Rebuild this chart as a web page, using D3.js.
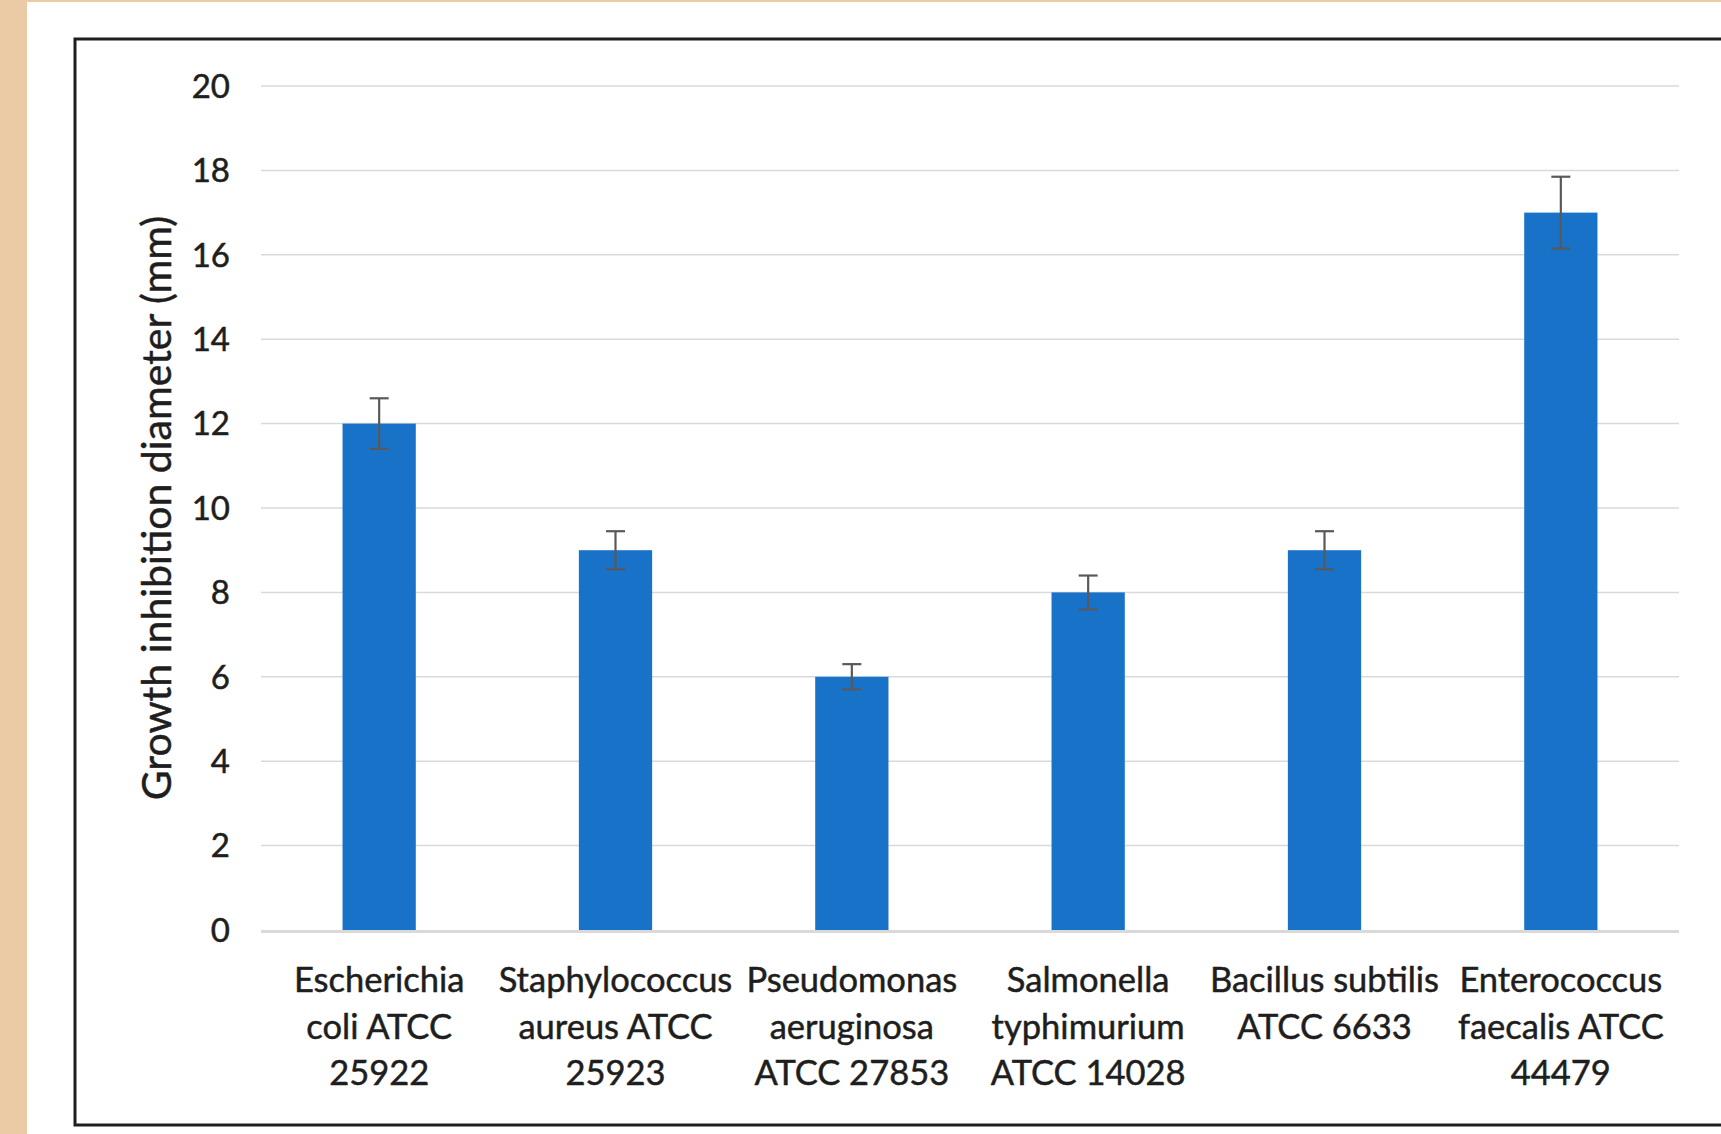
<!DOCTYPE html>
<html>
<head>
<meta charset="utf-8">
<script src="https://cdn.jsdelivr.net/npm/d3@7"></script>
<style>
  html, body { margin: 0; padding: 0; background: #ebcaa6; }
  svg { display: block; }
</style>
</head>
<body>
<svg id="chart" width="1721" height="1134"></svg>
<script>
const categories = [
  ["Escherichia", "coli ATCC", "25922"],
  ["Staphylococcus", "aureus ATCC", "25923"],
  ["Pseudomonas", "aeruginosa", "ATCC 27853"],
  ["Salmonella", "typhimurium", "ATCC 14028"],
  ["Bacillus subtilis", "ATCC 6633"],
  ["Enterococcus", "faecalis ATCC", "44479"]
];
const values = [12, 9, 6, 8, 9, 17];
const errors = [0.6, 0.45, 0.3, 0.4, 0.45, 0.85];
const yTicks = [0, 2, 4, 6, 8, 10, 12, 14, 16, 18, 20];
const yTitle = "Growth inhibition diameter (mm)";

const svg = d3.select("#chart");
const W = 1721, H = 1134;
const font = "Lato, 'Open Sans', sans-serif";
const textColor = "#1e1e1e";

// page background: white sheet over beige margin
svg.append("rect").attr("x", 27).attr("y", 2).attr("width", W - 27).attr("height", H - 2).attr("fill", "#ffffff");

// chart frame
svg.append("rect")
  .attr("x", 75).attr("y", 39).attr("width", W).attr("height", 1086)
  .attr("fill", "none").attr("stroke", "#1e1e1e").attr("stroke-width", 3);

const x = d3.scaleBand()
  .domain(d3.range(categories.length))
  .range([261, 1679])
  .paddingInner(0.69)
  .paddingOuter(0.345);

const y = d3.scaleLinear().domain([0, 20]).range([930, 86]);

// gridlines
svg.append("g").selectAll("line").data(yTicks.filter(d => d !== 0)).join("line")
  .attr("x1", 261).attr("x2", 1679)
  .attr("y1", d => y(d)).attr("y2", d => y(d))
  .attr("stroke", "#d9d9d9").attr("stroke-width", 1.5);

// y tick labels
svg.append("g").selectAll("text").data(yTicks).join("text")
  .attr("x", 230).attr("y", d => y(d))
  .attr("dy", "0.36em")
  .attr("text-anchor", "end")
  .attr("font-family", font).attr("font-size", 33)
  .attr("fill", textColor).attr("stroke", textColor).attr("stroke-width", 0.5)
  .text(d => d);

// bars
svg.append("g").selectAll("rect").data(values).join("rect")
  .attr("x", (d, i) => x(i))
  .attr("width", x.bandwidth())
  .attr("y", d => y(d))
  .attr("height", d => y(0) - y(d))
  .attr("fill", "#1873c8");

// baseline
svg.append("line")
  .attr("x1", 261).attr("x2", 1679)
  .attr("y1", y(0) + 1.5).attr("y2", y(0) + 1.5)
  .attr("stroke", "#d9d9d9").attr("stroke-width", 3);

// error bars
const eg = svg.append("g").attr("stroke", "#595959").attr("stroke-width", 2.2);
values.forEach((v, i) => {
  const cx = x(i) + x.bandwidth() / 2;
  const lo = v - errors[i], hi = v + errors[i];
  eg.append("line").attr("x1", cx).attr("x2", cx).attr("y1", y(hi)).attr("y2", y(lo));
  eg.append("line").attr("x1", cx - 9.5).attr("x2", cx + 9.5).attr("y1", y(hi)).attr("y2", y(hi));
  eg.append("line").attr("x1", cx - 9.5).attr("x2", cx + 9.5).attr("y1", y(lo)).attr("y2", y(lo));
});

// category labels
const lg = svg.append("g");
categories.forEach((lines, i) => {
  const cx = x(i) + x.bandwidth() / 2;
  const t = lg.append("text")
    .attr("text-anchor", "middle")
    .attr("font-family", font).attr("font-size", 34.5)
    .attr("fill", textColor).attr("stroke", textColor).attr("stroke-width", 0.5);
  lines.forEach((ln, j) => {
    t.append("tspan").attr("x", cx).attr("y", 980 + j * 46.5).attr("dy", "0.36em").text(ln);
  });
});

// y axis title
svg.append("text")
  .attr("transform", `translate(156, ${(y(0) + y(20)) / 2}) rotate(-90)`)
  .attr("dy", "0.36em")
  .attr("text-anchor", "middle")
  .attr("font-family", font).attr("font-size", 41)
  .attr("fill", textColor).attr("stroke", textColor).attr("stroke-width", 0.5)
  .text(yTitle);
</script>
</body>
</html>
